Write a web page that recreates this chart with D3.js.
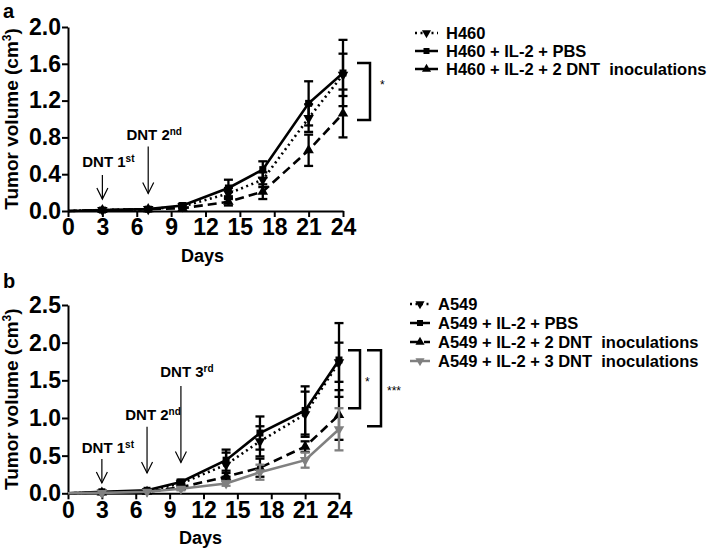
<!DOCTYPE html>
<html>
<head>
<meta charset="utf-8">
<script src="https://cdnjs.cloudflare.com/ajax/libs/d3/7.8.5/d3.min.js"></script>
<style>
  body { margin: 0; background: #fff; }
  svg { font-family: "Liberation Sans", Arial, sans-serif; font-weight: bold; }
  text { white-space: pre; }
</style>
</head>
<body>
<svg width="709" height="551"></svg>
<script>
// days of measurement
var days = [0, 3, 7, 10, 14, 17, 21, 24];
var xTicks = [0, 3, 6, 9, 12, 15, 18, 21, 24];

// panel a - H460
var aTicks = [0, 0.4, 0.8, 1.2, 1.6, 2.0];
var h460      = [0, 0.01, 0.02, 0.05, 0.19, 0.34, 1.01, 1.48];
var h460Err   = [0, 0.005, 0.01, 0.02, 0.06, 0.08, 0.15, 0.23];
var h460Pbs   = [0, 0.01, 0.02, 0.06, 0.25, 0.45, 1.17, 1.50];
var h460PbsErr = [0, 0.01, 0.01, 0.02, 0.09, 0.09, 0.24, 0.36];
var h460Dnt2  = [0, 0.01, 0.02, 0.03, 0.10, 0.21, 0.66, 1.06];
var h460Dnt2Err = [0, 0.005, 0.01, 0.01, 0.04, 0.08, 0.17, 0.26];
var aNames = ["H460", "H460 + IL-2 + PBS", "H460 + IL-2 + 2 DNT  inoculations"];

// panel b - A549
var bTicks = [0, 0.5, 1.0, 1.5, 2.0, 2.5];
var a549      = [0, 0.01, 0.03, 0.13, 0.38, 0.69, 1.05, 1.74];
var a549Err   = [0, 0.005, 0.01, 0.03, 0.16, 0.20, 0.30, 0.26];
var a549Pbs   = [0, 0.02, 0.04, 0.15, 0.44, 0.80, 1.10, 1.77];
var a549PbsErr = [0, 0.01, 0.01, 0.03, 0.14, 0.22, 0.32, 0.49];
var a549Dnt2  = [0, 0.01, 0.02, 0.08, 0.22, 0.34, 0.62, 1.04];
var a549Dnt2Err = [0, 0.005, 0.01, 0.02, 0.05, 0.12, 0.07, 0.33];
var a549Dnt3  = [0, 0.005, 0.02, 0.06, 0.13, 0.28, 0.44, 0.85];
var a549Dnt3Err = [0, 0.005, 0.01, 0.02, 0.03, 0.10, 0.10, 0.28];
var bNames = ["A549", "A549 + IL-2 + PBS", "A549 + IL-2 + 2 DNT  inoculations", "A549 + IL-2 + 3 DNT  inoculations"];

// DNT injections: day, ordinal, suffix
var aArrows = [[3, "1", "st"], [7, "2", "nd"]];
var bArrows = [[3, "1", "st"], [7, "2", "nd"], [10, "3", "rd"]];

var svg = d3.select("svg");

// line styles
var styles = {
  dotted: { color: "#000", dash: "2,3.5", sym: "down" },
  solid:  { color: "#000", dash: null, sym: "square" },
  dashed: { color: "#000", dash: "9,5", sym: "up" },
  gray:   { color: "#808080", dash: null, sym: "down" }
};

function symbolPath(type, size) {
  if (type == "square") return d3.symbol().type(d3.symbolSquare).size(size || 49)();
  return d3.symbol().type(d3.symbolTriangle).size(size || 48)();
}

function drawPanel(p) {
  var x = d3.scaleLinear().domain([0, 24]).range(p.xr);
  var y = d3.scaleLinear().domain([0, p.ticks[p.ticks.length - 1]]).range(p.yr);
  var g = svg.append("g");

  // panel letter
  svg.append("text").attr("x", 3).attr("y", p.letterY)
    .attr("font-size", "20px").text(p.letter);

  // axes
  var xa = g.append("g").attr("transform", "translate(0," + p.yr[0] + ")")
    .call(d3.axisBottom(x).tickValues(xTicks).tickSize(6).tickPadding(2).tickSizeOuter(0));
  var ya = g.append("g").attr("transform", "translate(" + p.xr[0] + ",0)")
    .call(d3.axisLeft(y).tickValues(p.ticks).tickFormat(d3.format(".1f")).tickSize(6).tickPadding(1).tickSizeOuter(0));
  [xa, ya].forEach(function(a) {
    a.attr("font-family", null).attr("font-size", "23px");
    a.selectAll("path, line").attr("stroke", "#000").attr("stroke-width", 2);
    a.selectAll("text").attr("fill", "#000");
  });

  g.append("text")
    .attr("x", (p.xr[0] + p.xr[1]) / 2 - 3).attr("y", p.yr[0] + 51)
    .attr("text-anchor", "middle").attr("font-size", "18px").text("Days");

  var yt = g.append("text")
    .attr("transform", "translate(18," + (p.yr[0] + p.yr[1]) / 2 + ") rotate(-90)")
    .attr("text-anchor", "middle").attr("font-size", "19px");
  yt.append("tspan").text("Tumor volume (cm");
  yt.append("tspan").attr("font-size", "12px").attr("dy", "-7").text("3");
  yt.append("tspan").attr("dy", "7").text(")");

  // series
  var line = d3.line().x(function(d) { return x(d.day); }).y(function(d) { return y(d.v); });
  p.series.forEach(function(s) {
    var st = styles[s.style];
    var pts = days.map(function(d, i) { return { day: d, v: s.values[i], e: s.err[i] }; });
    var withMarks = pts.filter(function(d) { return d.day > 0; });

    var eb = g.append("g").attr("stroke", st.color).attr("stroke-width", 2.3);
    withMarks.forEach(function(d) {
      if (d.e < 0.02) return;
      var cx = x(d.day);
      eb.append("line").attr("x1", cx).attr("x2", cx).attr("y1", y(d.v - d.e)).attr("y2", y(d.v + d.e));
      eb.append("line").attr("x1", cx - 4.5).attr("x2", cx + 4.5).attr("y1", y(d.v + d.e)).attr("y2", y(d.v + d.e));
      eb.append("line").attr("x1", cx - 4.5).attr("x2", cx + 4.5).attr("y1", y(d.v - d.e)).attr("y2", y(d.v - d.e));
    });

    g.append("path").datum(pts).attr("d", line)
      .attr("fill", "none").attr("stroke", st.color).attr("stroke-width", 2.6)
      .attr("stroke-dasharray", st.dash);

    g.selectAll(null).data(withMarks).enter().append("path")
      .attr("d", symbolPath(st.sym))
      .attr("transform", function(d) {
        return "translate(" + x(d.day) + "," + y(d.v) + ")" + (st.sym == "down" ? " rotate(180)" : "");
      })
      .attr("fill", st.color);
  });

  // injection arrows
  p.arrows.forEach(function(a, i) {
    var ar = p.arrowY[i];
    var ax = x(a[0]), top = y(ar[0]), tip = y(ar[1]);
    g.append("line").attr("x1", ax).attr("x2", ax).attr("y1", top).attr("y2", tip)
      .attr("stroke", "#000").attr("stroke-width", 1.2);
    g.append("path").attr("d", "M" + (ax - 5.5) + "," + (tip - 11) + "L" + ax + "," + tip + "L" + (ax + 5.5) + "," + (tip - 11))
      .attr("fill", "none").attr("stroke", "#000").attr("stroke-width", 1.2);
    var t = g.append("text").attr("x", ax + 6).attr("y", y(ar[2]))
      .attr("text-anchor", "middle").attr("font-size", "15px");
    t.append("tspan").text("DNT " + a[1]);
    t.append("tspan").attr("font-size", "10px").attr("dy", "-5").text(a[2]);
  });

  // significance brackets
  p.brackets.forEach(function(b) {
    var x0 = p.xr[1] + b.x0, x1 = p.xr[1] + b.x1;
    g.append("path")
      .attr("d", "M" + x0 + "," + y(b.top) + "H" + x1 + "V" + y(b.bottom) + "H" + x0)
      .attr("fill", "none").attr("stroke", "#000").attr("stroke-width", 2.5);
    g.append("text").attr("x", x1 + b.tx).attr("y", (y(b.top) + y(b.bottom)) / 2 + b.ty)
      .attr("font-weight", "normal").attr("font-size", "12px").text(b.label);
  });

  // legend
  var lg = svg.append("g").attr("transform", "translate(" + p.legend[0] + "," + p.legend[1] + ")");
  p.series.forEach(function(s, i) {
    var st = styles[s.style];
    var row = lg.append("g").attr("transform", "translate(0," + i * p.legend[2] + ")");
    row.append("line").attr("x1", 0).attr("x2", p.legend[3]).attr("y1", 0).attr("y2", 0)
      .attr("stroke", st.color).attr("stroke-width", 2.5).attr("stroke-dasharray", st.dash);
    row.append("path").attr("d", symbolPath(st.sym, 36))
      .attr("transform", "translate(" + p.legend[3] / 2 + ",0)" + (st.sym == "down" ? " rotate(180)" : ""))
      .attr("fill", st.color);
    row.append("text").attr("x", p.legend[3] + 8).attr("y", 6)
      .attr("font-size", "16.5px").text(s.name);
  });
}

drawPanel({
  letter: "a", letterY: 18,
  xr: [68, 343], yr: [211, 27], ticks: aTicks,
  series: [
    { name: aNames[0], values: h460, err: h460Err, style: "dotted" },
    { name: aNames[1], values: h460Pbs, err: h460PbsErr, style: "solid" },
    { name: aNames[2], values: h460Dnt2, err: h460Dnt2Err, style: "dashed" }
  ],
  arrows: aArrows,
  arrowY: [[0.39, 0.13, 0.48], [0.70, 0.19, 0.77]],
  brackets: [{ top: 1.61, bottom: 0.99, x0: 14, x1: 27, tx: 10, ty: -2, label: "*" }],
  legend: [415, 33, 18, 23]
});

drawPanel({
  letter: "b", letterY: 288,
  xr: [68, 339], yr: [493.3, 305], ticks: bTicks,
  series: [
    { name: bNames[0], values: a549, err: a549Err, style: "dotted" },
    { name: bNames[1], values: a549Pbs, err: a549PbsErr, style: "solid" },
    { name: bNames[2], values: a549Dnt2, err: a549Dnt2Err, style: "dashed" },
    { name: bNames[3], values: a549Dnt3, err: a549Dnt3Err, style: "gray" }
  ],
  arrows: bArrows,
  arrowY: [[0.455, 0.137, 0.54], [0.885, 0.27, 0.97], [1.425, 0.41, 1.55]],
  brackets: [
    { top: 1.90, bottom: 1.13, x0: 9, x1: 21, tx: 5, ty: 7, label: "*" },
    { top: 1.90, bottom: 0.89, x0: 28, x1: 42, tx: 6, ty: 7, label: "***" }
  ],
  legend: [410, 304, 19, 20]
});
</script>
</body>
</html>
